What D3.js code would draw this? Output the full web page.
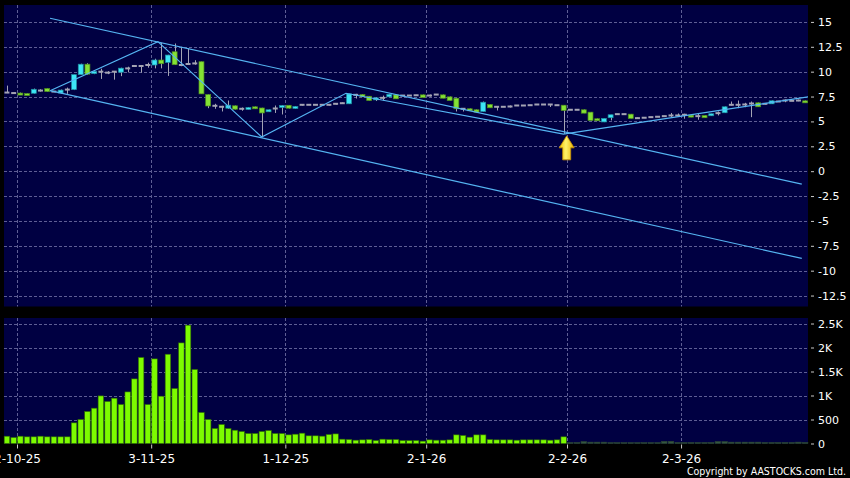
<!DOCTYPE html>
<head>
<meta charset="utf-8">
<script src="https://d3js.org/d3.v7.min.js"></script>
<style>
  *{margin:0;padding:0;}
  html,body{background:#000;width:850px;height:478px;overflow:hidden;}
  svg{display:block;}
  text{font-family:'DejaVu Sans',sans-serif;fill:#fff;}
</style>
</head>
<body>
<svg id="chart" width="850" height="478"></svg>
<script>
// date ticks (index of trading day) and labels
const tickIdx = [2, 22, 42, 63, 84, 101];
const tickLab = ["2-10-25", "3-11-25", "1-12-25", "2-1-26", "2-2-26", "2-3-26"];
const priceTicks = [15, 12.5, 10, 7.5, 5, 2.5, 0, -2.5, -5, -7.5, -10, -12.5];
const volTicks = [0, 500, 1000, 1500, 2000, 2500];
const volTickLab = ["0", "500", "1K", "1.5K", "2K", "2.5K"];

// daily candles
const open = [
  7.9, 7.85, 7.85, 7.8, 7.83, 8.1, 8.3, 8.0, 7.85, 8.2,
  8.2, 9.7, 10.75, 9.8, 10.0, 9.9, 10.0, 9.95, 10.33, 10.57,
  10.57, 10.67, 10.67, 11.17, 10.93, 12.0, 10.67, 10.77, 10.83, 11.0,
  7.7, 6.57, 6.47, 6.33, 6.57, 6.27, 6.23, 6.47, 6.35, 6.0,
  6.3, 6.4, 6.62, 6.3, 6.67, 6.67, 6.67, 6.67, 6.67, 6.77,
  6.83, 6.77, 7.67, 7.7, 7.53, 7.2, 7.37, 7.47, 7.67, 7.6,
  7.6, 7.63, 7.67, 7.6, 7.7, 7.67, 7.47, 7.33, 6.27, 6.27,
  6.17, 6.0, 6.7, 6.47, 6.47, 6.5, 6.6, 6.6, 6.63, 6.7,
  6.7, 6.7, 6.63, 6.63, 6.17, 6.17, 6.17, 5.93, 5.27, 4.95,
  5.37, 5.73, 5.73, 5.73, 5.33, 5.37, 5.43, 5.47, 5.53, 5.6,
  5.6, 5.67, 5.63, 5.53, 5.6, 5.57, 5.83, 5.87, 6.67, 6.67,
  6.7, 6.8, 6.87, 6.77, 6.77, 7.0, 7.1, 7.07, 7.1, 7.07
];
const high = [
  8.6, 7.9, 7.9, 7.82, 8.3, 8.23, 8.32, 8.05, 8.2, 8.4,
  9.7, 10.8, 10.85, 10.05, 10.3, 10.05, 10.05, 10.4, 10.5, 10.62,
  10.62, 10.9, 11.3, 12.9, 11.7, 12.83, 12.5, 12.33, 11.15, 11.02,
  7.72, 6.77, 6.57, 7.1, 6.6, 6.4, 6.45, 6.5, 6.37, 6.2,
  6.6, 6.65, 6.65, 6.55, 6.7, 6.7, 6.7, 6.7, 6.72, 6.8,
  6.9, 7.77, 7.77, 7.75, 7.55, 7.45, 7.6, 7.77, 7.7, 7.65,
  7.63, 7.66, 7.7, 7.7, 7.75, 7.7, 7.5, 7.35, 6.3, 6.3,
  6.2, 7.0, 6.72, 6.5, 6.5, 6.6, 6.63, 6.63, 6.66, 6.73,
  6.73, 6.75, 6.66, 6.65, 6.2, 6.2, 6.2, 5.95, 5.3, 5.3,
  5.67, 5.76, 5.76, 5.75, 5.4, 5.4, 5.46, 5.5, 5.56, 5.85,
  5.8, 5.77, 5.65, 5.77, 5.62, 5.78, 6.0, 6.5, 7.0, 7.1,
  6.87, 7.0, 6.9, 6.8, 7.1, 7.05, 7.2, 7.1, 7.2, 7.1
];
const low = [
  7.85, 7.8, 7.65, 7.68, 7.8, 8.0, 7.97, 7.95, 7.8, 7.77,
  8.15, 9.68, 9.7, 9.75, 9.27, 9.75, 9.2, 9.55, 9.93, 10.5,
  9.9, 10.4, 10.33, 10.33, 9.57, 10.67, 10.55, 10.7, 10.7, 7.77,
  6.33, 6.27, 6.0, 6.25, 6.2, 6.07, 6.2, 6.25, 3.4, 5.95,
  5.85, 5.7, 6.3, 6.27, 6.6, 6.64, 6.64, 6.64, 6.6, 6.7,
  6.8, 6.75, 7.3, 7.47, 7.1, 7.05, 7.1, 7.45, 7.27, 7.55,
  7.57, 7.6, 7.4, 7.5, 7.65, 7.33, 7.1, 6.0, 6.0, 6.05,
  5.9, 5.98, 6.37, 6.1, 6.44, 6.4, 6.57, 6.57, 6.6, 6.67,
  6.67, 6.45, 6.6, 3.75, 6.14, 6.14, 5.83, 5.1, 5.07, 4.93,
  5.1, 5.7, 5.7, 5.3, 5.25, 5.34, 5.4, 5.44, 5.5, 5.45,
  5.5, 5.27, 5.43, 5.17, 5.37, 5.55, 5.6, 5.85, 6.6, 6.33,
  6.43, 5.43, 6.47, 6.7, 6.75, 6.95, 6.93, 7.04, 7.03, 6.9
];
const close = [
  7.9, 7.85, 7.7, 7.7, 8.23, 8.1, 8.0, 8.0, 8.15, 8.2,
  9.7, 10.75, 9.75, 10.03, 10.0, 9.9, 10.0, 10.35, 10.33, 10.57,
  10.57, 10.67, 11.17, 10.8, 11.67, 10.7, 10.67, 10.77, 10.83, 7.77,
  6.55, 6.57, 6.47, 6.63, 6.23, 6.27, 6.4, 6.27, 5.85, 6.17,
  6.3, 6.6, 6.33, 6.5, 6.67, 6.67, 6.67, 6.67, 6.67, 6.77,
  6.83, 7.77, 7.67, 7.47, 7.1, 7.37, 7.37, 7.73, 7.27, 7.6,
  7.6, 7.63, 7.4, 7.6, 7.7, 7.33, 7.1, 6.27, 6.27, 6.07,
  5.93, 6.93, 6.37, 6.47, 6.47, 6.5, 6.6, 6.6, 6.63, 6.7,
  6.7, 6.7, 6.63, 6.1, 6.17, 6.17, 5.83, 5.1, 5.07, 5.3,
  5.67, 5.73, 5.73, 5.3, 5.33, 5.37, 5.43, 5.47, 5.53, 5.6,
  5.6, 5.67, 5.43, 5.53, 5.37, 5.77, 5.83, 6.47, 6.67, 6.67,
  6.7, 6.8, 6.47, 6.77, 7.07, 7.0, 7.1, 7.07, 7.1, 6.9
];
const volume = [
  152, 125, 152, 139, 139, 152, 139, 139, 139, 139,
  430, 500, 667, 736, 992, 875, 944, 812, 1075, 1346,
  1792, 812, 1763, 985, 1860, 1146, 2096, 2465, 1542, 646,
  500, 312, 396, 312, 277, 250, 208, 208, 250, 271,
  208, 208, 180, 194, 215, 160, 160, 153, 187, 200,
  90, 83, 69, 76, 83, 62, 90, 83, 83, 62,
  62, 62, 49, 76, 69, 69, 76, 180, 167, 132,
  180, 180, 83, 76, 76, 76, 69, 76, 76, 76,
  76, 69, 76, 139, 20, 20, 40, 28, 28, 28,
  18, 18, 18, 18, 18, 18, 18, 18, 45, 45,
  20, 20, 20, 20, 20, 20, 40, 40, 28, 28,
  28, 28, 28, 20, 20, 20, 20, 20, 28, 20
];
const dimFrom = 84; // volume bars drawn dim from this day on

// drawn trend lines: [day index, price]
const zigzag = [[6.42, 8.09], [22.5, 13.02], [37.98, 3.43], [50.55, 7.83], [82.97, 3.73], [119.6, 7.48]];
const channelUp = [[6.42, 15.37], [118.5, -1.3]];
const channelLow = [[6.42, 8.09], [118.5, -8.77]];
const arrowDay = 83.45;

const svg = d3.select("#chart");
const left = 3.6, right = 808.5;
const mainTop = 5, mainBot = 306.5, volTop = 318, volBot = 443.5;

const xi = d3.scaleLinear().domain([-0.5, open.length - 0.5]).range([left, right]);
const step = xi(1) - xi(0);
const y = d3.scaleLinear().domain([-13.6, 16.7]).range([mainBot, mainTop]);
const yv = d3.scaleLinear().domain([0, 2615]).range([volBot, volTop]);

const gridCol = "#5e5e94";

// panels
svg.append("rect").attr("x", 4).attr("y", mainTop).attr("width", 804).attr("height", mainBot - mainTop).attr("fill", "#000042");
svg.append("rect").attr("x", 4).attr("y", volTop).attr("width", 804).attr("height", volBot - volTop).attr("fill", "#000042");

let defs = svg.append("defs");
defs.append("clipPath").attr("id", "clipMain").append("rect")
  .attr("x", 4).attr("y", mainTop).attr("width", 804).attr("height", mainBot - mainTop);
let grad = defs.append("linearGradient").attr("id", "arrowGrad").attr("x1", 0).attr("x2", 1).attr("y1", 0).attr("y2", 0);
grad.append("stop").attr("offset", "0%").attr("stop-color", "#f2c200");
grad.append("stop").attr("offset", "45%").attr("stop-color", "#fff36a");
grad.append("stop").attr("offset", "100%").attr("stop-color", "#e8b000");

// grid
let grid = svg.append("g").attr("stroke", gridCol).attr("stroke-width", 1).attr("stroke-dasharray", "3,2");
grid.selectAll(".hm").data(priceTicks).enter().append("line")
  .attr("x1", 4).attr("x2", 808)
  .attr("y1", d => Math.round(y(d)) + 0.5).attr("y2", d => Math.round(y(d)) + 0.5);
grid.selectAll(".hv").data(volTicks.slice(1)).enter().append("line")
  .attr("x1", 4).attr("x2", 808)
  .attr("y1", d => Math.round(yv(d)) + 0.5).attr("y2", d => Math.round(yv(d)) + 0.5);
grid.selectAll(".vm").data(tickIdx).enter().append("line")
  .attr("x1", d => Math.round(xi(d - 0.5)) + 0.5).attr("x2", d => Math.round(xi(d - 0.5)) + 0.5)
  .attr("y1", mainTop).attr("y2", mainBot);
grid.selectAll(".vv").data(tickIdx).enter().append("line")
  .attr("x1", d => Math.round(xi(d - 0.5)) + 0.5).attr("x2", d => Math.round(xi(d - 0.5)) + 0.5)
  .attr("y1", volTop).attr("y2", volBot);

// volume bars
const bw = step * 0.82;
svg.append("g").selectAll("rect").data(volume).enter().append("rect")
  .attr("x", (d, i) => xi(i) - bw / 2)
  .attr("width", bw)
  .attr("y", d => yv(d))
  .attr("height", d => volBot - yv(d))
  .attr("fill", (d, i) => i < dimFrom ? "#7dfb00" : "#35573f")
  .attr("stroke", (d, i) => i < dimFrom ? "#2d6a00" : "#2a4432")
  .attr("stroke-width", 0.6);

// candles
let candles = d3.range(open.length).map(i => ({ i: i, o: open[i], h: high[i], l: low[i], c: close[i] }));
let cg = svg.append("g").attr("clip-path", "url(#clipMain)");
const cw = step * 0.74;
cg.selectAll(".wick").data(candles).enter().append("line")
  .attr("x1", d => Math.round(xi(d.i)) + 0.5).attr("x2", d => Math.round(xi(d.i)) + 0.5)
  .attr("y1", d => y(d.h)).attr("y2", d => y(d.l))
  .attr("stroke", "#a4a4b4").attr("stroke-width", 1);
cg.selectAll(".body").data(candles).enter().append("rect")
  .attr("x", d => xi(d.i) - cw / 2)
  .attr("width", cw)
  .attr("y", d => Math.abs(d.c - d.o) < 0.04 ? y(d.c) - 1 : y(Math.max(d.o, d.c)))
  .attr("height", d => Math.abs(d.c - d.o) < 0.04 ? 2 : Math.max(2, y(Math.min(d.o, d.c)) - y(Math.max(d.o, d.c))))
  .attr("fill", d => Math.abs(d.c - d.o) < 0.04 ? "#a4a4b4" : (d.c > d.o ? "#3de6f6" : "#84e234"))
  .attr("stroke", d => Math.abs(d.c - d.o) < 0.04 ? "none" : (d.c > d.o ? "#1f8fa0" : "#4f8f1e"))
  .attr("stroke-width", 0.7);

// trend lines
let line = d3.line().x(d => xi(d[0])).y(d => y(d[1]));
let lg = svg.append("g").attr("clip-path", "url(#clipMain)").attr("fill", "none")
  .attr("stroke", "#55b4f2").attr("stroke-width", 1.2);
[zigzag, channelUp, channelLow].forEach(p => lg.append("path").attr("d", line(p)));

// arrow under the marked low
let ax = xi(arrowDay), ay = y(low[83]) + 2;
svg.append("path")
  .attr("d", `M${ax},${ay} L${ax + 7.5},${ay + 12} L${ax + 4},${ay + 12} L${ax + 4},${ay + 24} L${ax - 4},${ay + 24} L${ax - 4},${ay + 12} L${ax - 7.5},${ay + 12} Z`)
  .attr("fill", "url(#arrowGrad)").attr("stroke", "#c99000").attr("stroke-width", 0.8);

// axes
let yAxis = svg.append("g").attr("transform", "translate(811,0)")
  .call(d3.axisRight(y).tickValues(priceTicks).tickSize(3).tickPadding(4).tickFormat(d => d));
let vAxis = svg.append("g").attr("transform", "translate(811,0)")
  .call(d3.axisRight(yv).tickValues(volTicks).tickSize(3).tickPadding(4).tickFormat((d, i) => volTickLab[i]));
let xAxis = svg.append("g").attr("transform", `translate(0,${volBot + 1})`)
  .call(d3.axisBottom(xi).tickValues(tickIdx.map(j => j - 0.5)).tickSize(4).tickPadding(6).tickFormat((d, i) => tickLab[i]));
[yAxis, vAxis, xAxis].forEach(a => {
  a.select(".domain").remove();
  a.selectAll("line").attr("stroke", "#c8c8c8");
  a.selectAll("text").attr("fill", "#fff").style("font-family", "'DejaVu Sans',sans-serif");
});
yAxis.selectAll("text").style("font-size", "11px");
vAxis.selectAll("text").style("font-size", "11px");
xAxis.selectAll("text").style("font-size", "12px");

svg.append("text").attr("x", 846).attr("y", 475).attr("text-anchor", "end")
  .style("font-size", "10.5px").style("font-family", "'DejaVu Sans Condensed','DejaVu Sans',sans-serif")
  .text("Copyright by AASTOCKS.com Ltd.");
</script>
</body>
